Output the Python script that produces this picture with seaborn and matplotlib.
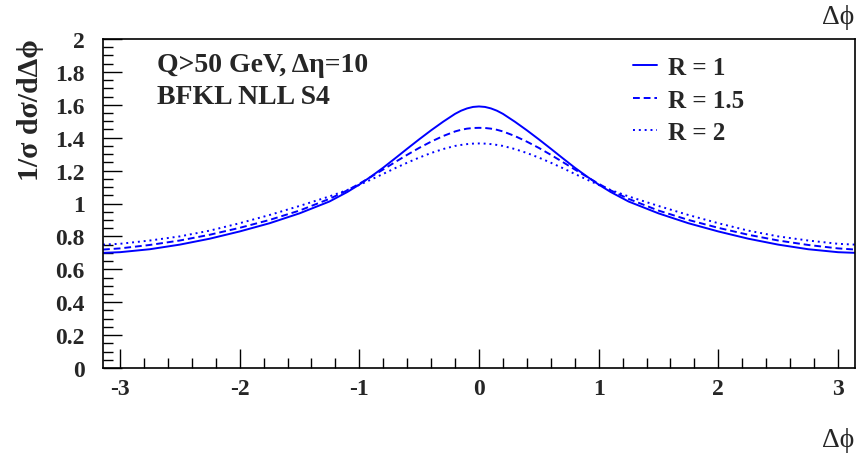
import numpy as np
import pandas as pd
import matplotlib
matplotlib.use("Agg")
import matplotlib.pyplot as plt
import seaborn as sns
from matplotlib.ticker import MultipleLocator
from matplotlib.lines import Line2D

# Half-range values (curves are symmetric in delta phi)
dphi_half = [0.0, 0.05, 0.1, 0.15, 0.2, 0.3, 0.4, 0.5, 0.6, 0.7, 0.8, 0.9, 1.0, 1.1,
             1.25, 1.5, 1.75, 2.0, 2.25, 2.5, 2.75, 3.0, 3.14159]
r1_half = [1.59, 1.587, 1.578, 1.564, 1.545, 1.497, 1.445, 1.39, 1.333, 1.275,
           1.218, 1.165, 1.115, 1.07, 1.012, 0.94, 0.88, 0.83, 0.786, 0.75, 0.722,
           0.704, 0.70]
r15_half = [1.46, 1.459, 1.455, 1.448, 1.438, 1.41, 1.376, 1.338, 1.296, 1.252,
            1.207, 1.163, 1.12, 1.08, 1.028, 0.957, 0.90, 0.852, 0.81, 0.775, 0.748,
            0.727, 0.72]
r2_half = [1.365, 1.364, 1.361, 1.356, 1.35, 1.331, 1.307, 1.279, 1.248, 1.215,
           1.18, 1.146, 1.113, 1.082, 1.043, 0.985, 0.93, 0.88, 0.835, 0.80, 0.775,
           0.755, 0.75]
labels = ["R = 1", "R = 1.5", "R = 2"]

def full(xs, ys):
    x = [-v for v in xs[::-1]] + xs[1:]
    y = ys[::-1] + ys[1:]
    return x, y

rows = []
for lab, ys in zip(labels, [r1_half, r15_half, r2_half]):
    x, y = full(dphi_half, ys)
    for a, b in zip(x, y):
        rows.append({"dphi": a, "val": b, "R": lab})
df = pd.DataFrame(rows)

sns.set_style("white")
plt.rcParams['font.family'] = ['Liberation Serif', 'DejaVu Serif']

fig = plt.figure(figsize=(8.68, 4.60), dpi=100)
ax = fig.add_axes([103/868, 91/460, (855-103)/868, (369-40)/460])

blue = "#0000ff"
dashes = {"R = 1": "", "R = 1.5": (3.5, 2.0), "R = 2": (1.0, 2.0)}
sns.lineplot(data=df, x="dphi", y="val", hue="R", style="R",
             palette={l: blue for l in labels}, dashes=dashes,
             linewidth=1.4, ax=ax, legend=False, sort=False)

ax.set_xlim(-np.pi, np.pi)
ax.set_ylim(0, 2)
ax.set_xlabel("")
ax.set_ylabel("")

for s in ax.spines.values():
    s.set_color("black")
    s.set_linewidth(1.2)

ax.xaxis.set_major_locator(MultipleLocator(1))
ax.xaxis.set_minor_locator(MultipleLocator(0.2))
ax.yaxis.set_major_locator(MultipleLocator(0.2))
ax.yaxis.set_minor_locator(MultipleLocator(0.05))
ax.tick_params(axis="both", which="major", direction="in", length=14, width=1,
               color="black", labelsize=17, bottom=True, left=True, top=False, right=False)
ax.tick_params(axis="both", which="minor", direction="in", length=7, width=1,
               color="black", bottom=True, left=True, top=False, right=False)
ax.tick_params(axis="x", which="major", pad=7)
ax.tick_params(axis="y", which="major", pad=13)

ax.set_xticks([-3, -2, -1, 0, 1, 2, 3])
ax.set_xticklabels(["-3", "-2", "-1", "0", "1", "2", "3"], fontweight="bold")
yt = [round(0.2 * i, 1) for i in range(11)]
ax.set_yticks(yt)
ax.set_yticklabels([f"{v:g}" for v in yt], fontweight="bold")

fig.text(30/868, 1 - 110/460, "1/σ dσ/dΔϕ", rotation=90, ha="center", va="center",
         fontsize=21.5, fontweight="bold")

fig.text(157/868, 1 - 66/460, "Q>50 GeV, Δη=10",
         fontsize=20, fontweight="bold", ha="left", va="center")
fig.text(157/868, 1 - 98/460, "BFKL NLL S4",
         fontsize=20, fontweight="bold", ha="left", va="center")

fig.text(838/868, 1 - 18/460, "Δϕ", fontsize=20, ha="center", va="center")
fig.text(838/868, 1 - 441/460, "Δϕ", fontsize=20, ha="center", va="center")

handles = [Line2D([0], [0], color=blue, lw=1.4, ls="-"),
           Line2D([0], [0], color=blue, lw=1.4, ls=(0, (3.5, 2.0))),
           Line2D([0], [0], color=blue, lw=1.4, ls=(0, (1.0, 2.0)))]
leg = ax.legend(handles, labels, loc="upper left",
                bbox_to_anchor=(633/868, 1 - 57/460), bbox_transform=fig.transFigure,
                frameon=False, handlelength=0.95, handletextpad=0.45,
                labelspacing=0.38, borderpad=0, borderaxespad=0,
                prop={"size": 18, "weight": "bold"})

fig.savefig("out.png", dpi=100)
